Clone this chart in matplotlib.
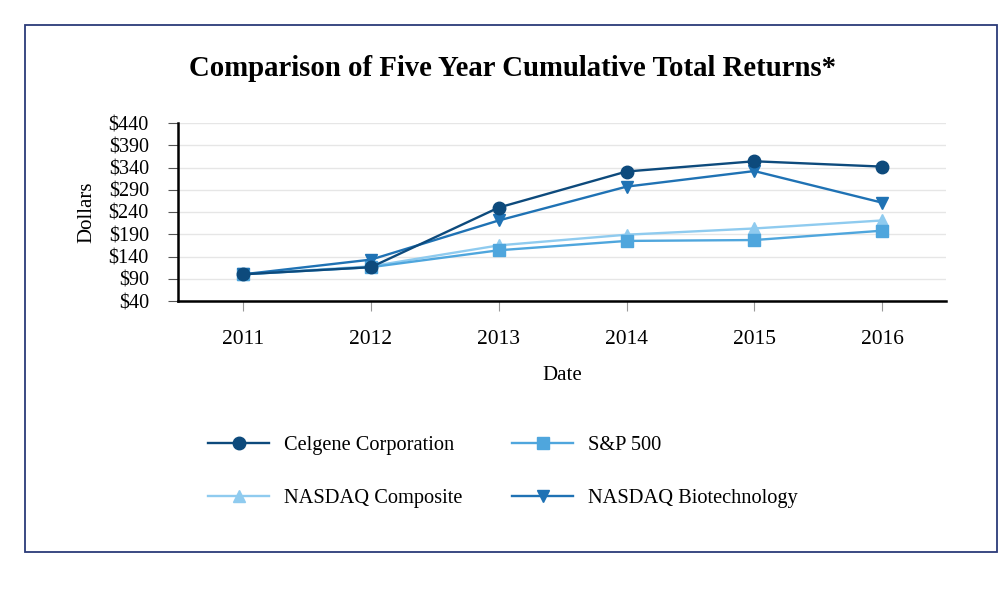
import matplotlib
matplotlib.use("Agg")
import matplotlib.pyplot as plt
from matplotlib.patches import Rectangle

years = [2011, 2012, 2013, 2014, 2015, 2016]
celgene = [100, 116, 250, 331, 354, 342]
sp500 = [100, 116, 154, 175, 177, 198]
nasdaq_comp = [100, 118, 165, 189, 203, 221]
nasdaq_bio = [100, 133, 221, 297, 332, 261]
yticks = [40, 90, 140, 190, 240, 290, 340, 390, 440]
ytick_labels = ["$40", "$90", "$140", "$190", "$240", "$290", "$340", "$390", "$440"]

plt.rcParams['font.family'] = ['Liberation Serif', 'DejaVu Serif']

fig = plt.figure(figsize=(10, 6.01), dpi=100)
fig.patches.append(Rectangle((0.0245, (601 - 552) / 601), 0.9725, (552 - 25) / 601,
                             transform=fig.transFigure, fill=False,
                             edgecolor='#2b3a78', linewidth=1.3))

ax = fig.add_axes([0.178, 1 - 301 / 601, 0.768, (301 - 123) / 601])

c_cel = '#0d4a7c'
c_sp = '#4fa6dd'
c_nc = '#8fcbef'
c_nb = '#1f72b4'

ax.plot(years, nasdaq_comp, color=c_nc, marker='^', markersize=9, linewidth=1.7, label='NASDAQ Composite', zorder=3)
ax.plot(years, sp500, color=c_sp, marker='s', markersize=9, linewidth=1.7, label='S&P 500', zorder=3)
ax.plot(years, nasdaq_bio, color=c_nb, marker='v', markersize=9, linewidth=1.7, label='NASDAQ Biotechnology', zorder=4)
ax.plot(years, celgene, color=c_cel, marker='o', markersize=9, linewidth=1.7, label='Celgene Corporation', zorder=5)

ax.set_xlim(2010.49, 2016.5)
ax.set_ylim(40, 440)
ax.set_yticks(yticks)
ax.set_yticklabels(ytick_labels)
ax.set_xticks(years)
ax.set_xticklabels([str(y) for y in years])
ax.grid(axis='y', color='#e6e6e6', linewidth=1)
ax.set_axisbelow(True)
for s in ['top', 'right']:
    ax.spines[s].set_visible(False)
ax.spines['left'].set_linewidth(1.8)
ax.spines['bottom'].set_linewidth(1.8)
ax.tick_params(axis='y', length=7, width=0.8, color='#555555', labelsize=14.5, pad=14)
ax.tick_params(axis='x', length=7, width=0.8, color='#999999', labelsize=15.5, pad=14)
ax.set_xlabel('Date', fontsize=15, labelpad=12)
ax.set_ylabel('Dollars', fontsize=15, labelpad=9)

fig.text(0.5125, 1 - 68 / 601, 'Comparison of Five Year Cumulative Total Returns*',
         ha='center', va='center', fontsize=20.7, fontweight='bold')

h = {l.get_label(): l for l in ax.get_lines()}
kw = dict(frameon=False, fontsize=14.7, handlelength=3.0, handletextpad=0.72,
          labelspacing=1.68, borderpad=0, borderaxespad=0, loc='upper left')
leg1 = fig.legend([h['Celgene Corporation'], h['NASDAQ Composite']],
                  ['Celgene Corporation', 'NASDAQ Composite'],
                  bbox_to_anchor=(0.208, 1 - 435.5 / 601), **kw)
leg2 = fig.legend([h['S&P 500'], h['NASDAQ Biotechnology']],
                  ['S&P 500', 'NASDAQ Biotechnology'],
                  bbox_to_anchor=(0.512, 1 - 435.5 / 601), **kw)

fig.savefig('out.png', dpi=100)
